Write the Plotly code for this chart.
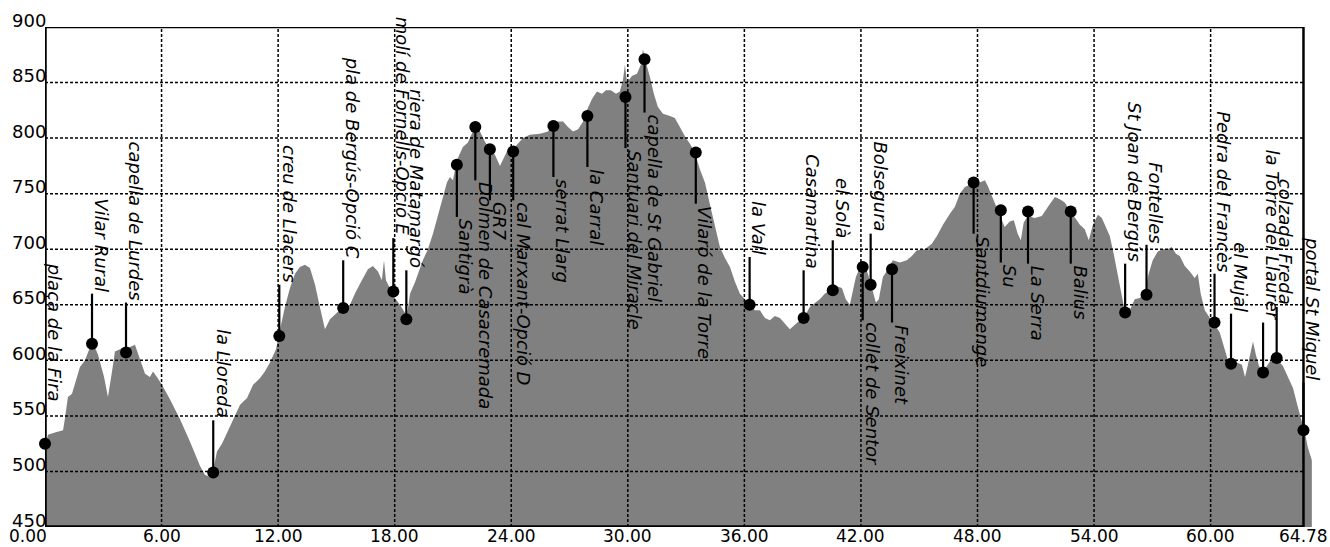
import plotly.graph_objects as go

# ---- elevation profile (km, m) ----
dist_km = [0.00, 0.15, 0.51, 0.93, 1.03, 1.18, 1.39, 1.80, 2.06, 2.32, 2.52, 2.73, 3.04, 3.24, 3.45, 3.60,
           3.86, 4.37, 4.63, 4.89, 5.15, 5.40, 5.56, 5.76, 6.02, 6.43, 6.95, 7.46, 7.98, 8.23, 8.49, 8.65,
           8.85, 9.11, 9.37, 9.78, 10.04, 10.40, 10.71, 11.07, 11.32, 11.58, 11.89, 12.10, 12.35, 12.61,
           12.87, 13.12, 13.38, 13.64, 13.90, 14.15, 14.41, 14.67, 15.03, 15.34, 15.70, 15.95, 16.31,
           16.62, 16.88, 17.14, 17.34, 17.45, 17.55, 17.76, 18.01, 18.27, 18.48, 18.63, 18.79, 19.04,
           19.45, 19.71, 19.97, 20.22, 20.48, 20.69, 20.84, 21.00, 21.20, 21.51, 21.77, 22.03, 22.18,
           22.39, 22.64, 22.90, 23.16, 23.42, 23.62, 23.83, 24.09, 24.35, 24.60, 24.96, 25.48, 25.89,
           26.15, 26.41, 26.67, 26.92, 27.18, 27.44, 27.70, 27.89, 28.15, 28.41, 28.67, 28.87, 29.13,
           29.39, 29.59, 29.75, 29.85, 29.96, 30.21, 30.47, 30.67, 30.78, 30.93, 31.14, 31.34, 31.55,
           31.81, 32.17, 32.42, 32.68, 32.99, 33.20, 33.45, 33.71, 33.97, 34.23, 34.49, 34.74, 35.00,
           35.26, 35.51, 35.77, 36.03, 36.29, 36.54, 36.80, 37.06, 37.31, 37.57, 37.83, 38.09, 38.34,
           38.60, 38.86, 39.11, 39.37, 39.63, 39.88, 40.14, 40.40, 40.71, 41.02, 41.22, 41.43, 41.58,
           41.74, 41.94, 42.15, 42.36, 42.56, 42.77, 42.92, 43.13, 43.39, 43.64, 44.00, 44.36, 44.62,
           44.88, 45.29, 45.65, 45.91, 46.22, 46.58, 46.83, 47.09, 47.35, 47.61, 47.86, 48.12, 48.38,
           48.53, 48.74, 48.94, 49.15, 49.40, 49.66, 49.87, 50.07, 50.23, 50.38, 50.59, 50.95, 51.31,
           51.62, 51.98, 52.24, 52.49, 52.75, 53.01, 53.27, 53.52, 53.73, 53.94, 54.20, 54.40, 54.61,
           54.81, 55.02, 55.22, 55.43, 55.63, 55.84, 56.09, 56.35, 56.61, 56.81, 57.02, 57.28, 57.53,
           57.79, 58.00, 58.21, 58.41, 58.67, 58.93, 59.18, 59.34, 59.49, 59.70, 59.96, 60.22, 60.47,
           60.68, 60.89, 61.10, 61.35, 61.61, 61.77, 61.92, 62.08, 62.18, 62.33, 62.49, 62.70, 62.95,
           63.21, 63.47, 63.72, 63.98, 64.24, 64.49, 64.70, 64.85, 65.00, 65.21]
elev_m = [520, 533, 535, 537, 548, 567, 570, 594, 600, 612, 614, 605, 585, 567, 590, 608,
          610, 612, 614, 600, 588, 585, 590, 585, 578, 565, 547, 527, 505, 497, 495, 500,
          518, 525, 535, 550, 560, 566, 578, 584, 590, 598, 610, 628, 648, 665,
          678, 684, 686, 683, 668, 648, 628, 637, 643, 648, 650, 660, 672,
          682, 685, 680, 672, 690, 672, 664, 656, 650, 644, 640, 660, 670,
          690, 700, 714, 730, 748, 760, 765, 762, 780, 792, 796, 807, 812,
          806, 797, 790, 785, 775, 782, 790, 790, 795, 800, 803, 804, 806,
          812, 815, 815, 810, 806, 808, 815, 825, 835, 842, 840, 843, 843,
          840, 842, 852, 866, 850, 856, 858, 866, 880, 868, 855, 840, 828,
          822, 820, 818, 810, 800, 795, 787, 772, 760, 740, 722, 702, 692,
          684, 671, 660, 655, 650, 645, 645, 638, 636, 640, 638, 633, 628,
          632, 636, 640, 648, 652, 655, 660, 663, 667, 665, 655, 650, 662,
          675, 683, 686, 678, 664, 652, 655, 675, 682, 690, 688, 690, 694,
          699, 700, 705, 712, 722, 732, 738, 750, 756, 758, 757, 760, 762,
          757, 748, 738, 730, 720, 725, 726, 714, 708, 724, 730, 728, 730,
          738, 747, 745, 742, 735, 728, 722, 718, 708, 722, 731, 728, 720,
          712, 695, 676, 658, 640, 645, 655, 656, 660, 678, 690, 698, 700,
          700, 702, 696, 694, 685, 680, 674, 678, 660, 645, 638, 632, 625,
          612, 600, 595, 598, 596, 585, 596, 610, 617, 605, 595, 590, 597,
          603, 600, 595, 585, 575, 558, 545, 535, 522, 510]

# ---- waypoints ----
wp_names = ["plaça de la Fira", "Vilar Rural", "capella de Lurdes", "la Lloreda", "creu de Llacers",
            "pla de Bergús-Opció C", "molí de Fornells-Opció E", "riera de Matamargó", "Santigrà",
            "Dolmen de Casacremada", "GR7", "cal Marxant-Opció D", "serrat Llarg", "la Carral",
            "Santuari del Miracle", "capella de St Gabriel", "Vilaró de la Torre", "la Vall",
            "Casamartina", "el Solà", "collet de Sentor", "Bolsegura", "Freixinet", "Santdiumenge",
            "Su", "La Serra", "Balius", "St Joan de Bergús", "Fontelles", "Pedra del Francès",
            "el Mujal", "la Torre del Llaurer", "colzada Freda", "portal St Miquel"]
wp_km = [0.0, 2.42, 4.17, 8.66, 12.06, 15.35, 17.93, 18.6, 21.2, 22.15, 22.9, 24.1, 26.17, 27.92,
         29.88, 30.86, 33.5, 36.27, 39.05, 40.55, 42.09, 42.5, 43.6, 47.8, 49.2, 50.6, 52.8, 55.6,
         56.7, 60.2, 61.05, 62.7, 63.4, 64.78]
wp_elev = [525, 615, 607, 499, 622, 647, 662, 637, 776, 810, 790, 788, 811, 820, 837, 871, 787, 650,
           638, 663, 684, 668, 682, 760, 735, 734, 734, 643, 659, 634, 597, 589, 602, 537]
wp_label_at = [561, 660, 652, 546, 668, 690, 710, 681, 729, 762, 744, 744, 765, 774, 791, 823, 741, 693,
               681, 708, 636, 714, 634, 714, 688, 687, 687, 687, 704, 678, 642, 634, 648, 580]

x_ticks = [0, 6, 12, 18, 24, 30, 36, 42, 48, 54, 60, 64.78]
x_tick_text = ["0.00", "6.00", "12.00", "18.00", "24.00", "30.00", "36.00", "42.00", "48.00",
               "54.00", "60.00", "64.78"]
y_ticks = [450, 500, 550, 600, 650, 700, 750, 800, 850, 900]

X_END = 64.78
FONT = "DejaVu Sans"

fig = go.Figure()
fig.add_trace(go.Scatter(x=dist_km, y=elev_m, mode="lines", line=dict(width=0, color="#808080"),
                         fill="tozeroy", fillcolor="#808080", hoverinfo="skip", showlegend=False))

# stems
sx, sy = [], []
for k, e, t in zip(wp_km, wp_elev, wp_label_at):
    sx += [k, k, None]
    sy += [e, t, None]
fig.add_trace(go.Scatter(x=sx, y=sy, mode="lines", line=dict(color="black", width=2.2),
                         hoverinfo="skip", showlegend=False, cliponaxis=False))
fig.add_trace(go.Scatter(x=wp_km, y=wp_elev, mode="markers", marker=dict(color="black", size=12),
                         showlegend=False, cliponaxis=False))

shapes = []
grid_style = dict(color="black", width=1.5, dash="3px,2px")
for v in x_ticks[1:-1]:
    shapes.append(dict(type="line", xref="x", yref="y", x0=v, x1=v, y0=450, y1=900,
                       line=grid_style, layer="above"))
for v in y_ticks[1:-1]:
    shapes.append(dict(type="line", xref="x", yref="y", x0=0, x1=X_END, y0=v, y1=v,
                       line=grid_style, layer="above"))
# frame
shapes.append(dict(type="line", xref="x", yref="y", x0=0, x1=X_END, y0=900, y1=900,
                   line=dict(color="black", width=2.5), layer="above"))
shapes.append(dict(type="line", xref="x", yref="y", x0=X_END, x1=X_END, y0=450, y1=900,
                   line=dict(color="black", width=2.5), layer="above"))
shapes.append(dict(type="line", xref="x", yref="y", x0=0, x1=X_END, y0=450, y1=450,
                   line=dict(color="black", width=3.5), layer="above"))
shapes.append(dict(type="line", xref="x", yref="y", x0=0, x1=0, y0=450, y1=900,
                   line=dict(color="black", width=3.5), layer="above"))

annotations = []
for name, k, e, t in zip(wp_names, wp_km, wp_elev, wp_label_at):
    above = t > e
    annotations.append(dict(x=k, y=t, xref="x", yref="y", text="<i>" + name + "</i>",
                            textangle=90, showarrow=False, xanchor="left",
                            yanchor="bottom" if above else "top", xshift=-3,
                            font=dict(family=FONT, size=18, color="black")))
for v in y_ticks:
    annotations.append(dict(x=0, y=v, xref="x", yref="y", text=str(v), showarrow=False,
                            xanchor="right", yanchor="middle", yshift=7, xshift=2, borderpad=0,
                            font=dict(family=FONT, size=18, color="black")))
for v, lab in zip(x_ticks, x_tick_text):
    annotations.append(dict(x=v, y=450, xref="x", yref="y", text=lab, showarrow=False,
                            xanchor="right" if v == 0 else "center", xshift=3 if v == 0 else 0,
                            yanchor="top", yshift=2, borderpad=0,
                            font=dict(family=FONT, size=17, color="black")))

fig.update_layout(
    width=1330, height=547,
    margin=dict(l=45, r=17, t=27, b=20),
    paper_bgcolor="white", plot_bgcolor="white",
    xaxis=dict(range=[0, 65.27], visible=False, fixedrange=True),
    yaxis=dict(range=[450, 900], visible=False, fixedrange=True),
    shapes=shapes, annotations=annotations, showlegend=False,
)

fig.write_html("out.html", config={"displayModeBar": False},
               post_script="document.body.style.margin='0';document.body.style.overflow='hidden';")
